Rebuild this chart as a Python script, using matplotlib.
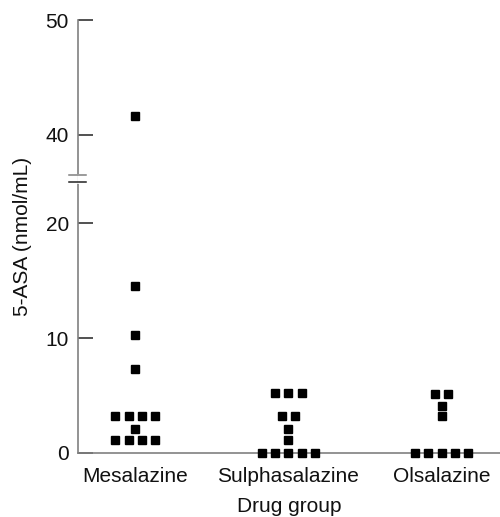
import matplotlib
matplotlib.use("Agg")
import matplotlib.pyplot as plt
import matplotlib.transforms as mtransforms
import numpy as np

plt.rcParams['font.family'] = ['Liberation Sans', 'DejaVu Sans']

groups = ['Mesalazine', 'Sulphasalazine', 'Olsalazine']
mesalazine = [41.6, 14.5, 10.3, 7.3, 3.2, 3.2, 3.2, 3.2, 2.1, 1.1, 1.1, 1.1, 1.1]
sulphasalazine = [5.2, 5.2, 5.2, 3.2, 3.2, 2.1, 1.1, 0, 0, 0, 0, 0]
olsalazine = [5.1, 5.1, 4.1, 3.2, 0, 0, 0, 0, 0]
yticks = [0, 10, 20, 40, 50]

# broken y axis: squeeze the range lo..hi into a small gap
lo, hi, gap = 23.6, 36.5, 0.6

def fwd(y):
    y = np.asarray(y, float)
    return np.where(y <= lo, y,
                    np.where(y >= hi, y - (hi - lo) + gap,
                             lo + (y - lo) * gap / (hi - lo)))

def inv(t):
    t = np.asarray(t, float)
    return np.where(t <= lo, t,
                    np.where(t >= lo + gap, t + (hi - lo) - gap,
                             lo + (t - lo) * (hi - lo) / gap))

def spread(vals, centre, step=0.087):
    # side-by-side placement of equal values
    xs, ys = [], []
    for v in sorted(set(vals), reverse=True):
        n = vals.count(v)
        for k in range(n):
            xs.append(centre + (k - (n - 1) / 2) * step)
            ys.append(v)
    return xs, ys

fig = plt.figure(figsize=(5, 5.17), dpi=100)
ax = fig.add_axes([0.156, 0.1238, 0.844, 0.8375])
ax.set_yscale('function', functions=(fwd, inv))

for i, vals in enumerate([mesalazine, sulphasalazine, olsalazine]):
    xs, ys = spread(vals, i + 1)
    ax.plot(xs, ys, 's', color='black', ms=5.8, clip_on=False, zorder=5)

ax.set_xlim(0.627, 3.38)
ax.set_ylim(0, 50)
ax.set_yticks(yticks)
ax.set_yticklabels([str(t) for t in yticks])
ax.set_xticks([1, 2, 3])
ax.set_xticklabels(groups)

for s in ['top', 'right']:
    ax.spines[s].set_visible(False)
for s in ['left', 'bottom']:
    ax.spines[s].set_color('#808080')
    ax.spines[s].set_linewidth(1.2)

ax.tick_params(axis='y', direction='in', length=11, width=1.1, color='#222222',
               labelsize=15, pad=6.5, labelcolor='#111111')
ax.tick_params(axis='x', length=0, labelsize=15, pad=10, labelcolor='#111111')

ax.set_ylabel('5-ASA (nmol/mL)', fontsize=15, color='#111111', labelpad=10)
ax.set_xlabel('Drug group', fontsize=15, color='#111111', labelpad=8)

# break marks on the y axis
tr = mtransforms.blended_transform_factory(ax.transAxes, ax.transData)
ax.plot([0, 0], [lo, hi], color='white', lw=2, transform=tr, clip_on=False, zorder=6)
ax.plot([-0.021, 0.019], [lo, lo], color='#222222', lw=1.1, transform=tr, clip_on=False, zorder=7)
ax.plot([-0.021, 0.019], [hi, hi], color='#808080', lw=1.1, transform=tr, clip_on=False, zorder=7)

fig.savefig('out.png', dpi=100)
